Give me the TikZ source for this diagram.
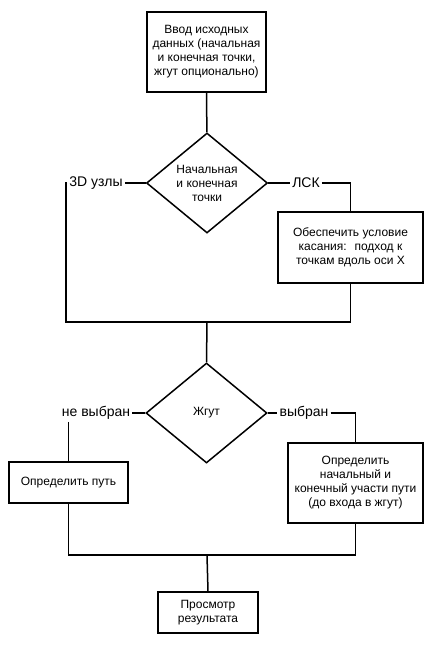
\documentclass[tikz,border=0pt]{standalone}
\usepackage{fontspec}
\setmainfont{Liberation Sans}
\usetikzlibrary{shapes.geometric}
\begin{document}
\begin{tikzpicture}[x=1pt, y=-1pt, line width=1.5pt, line join=miter,
	font=\fontsize{12}{14}\selectfont,
	box/.style={draw, rectangle, align=center, inner sep=2pt},
	choice/.style={draw, diamond, align=center, inner sep=0pt, minimum width=121pt, minimum height=100pt},
	lbl/.style={inner sep=1.5pt, font=\fontsize{14}{16}\selectfont}]
	\useasboundingbox (0,0) rectangle (440,651);
	\node[box, minimum width=119pt, minimum height=80pt] (input) at (206.5,52) {Ввод исходных\\данных (начальная\\и конечная точки,\\жгут опционально)};
	\node[choice] (ends) at (207,183) {Начальная\\и конечная\\точки};
	\node[lbl] (nodes3d) at (96,183) {3D узлы};
	\node[lbl] (lsk) at (306,183) {ЛСК};
	\node[box, minimum width=145pt, minimum height=71pt] (tangent) at (350.5,247.5) {Обеспечить условие\\касания:~ подход к\\точкам вдоль оси X};
	\coordinate (join1) at (207,322);
	\node[choice] (harness) at (206.5,413) {Жгут};
	\node[lbl] (nosel) at (96,413) {не выбран};
	\node[lbl] (sel) at (304,413) {выбран};
	\node[box, minimum width=119pt, minimum height=41pt] (path) at (68.5,482.5) {Определить путь};
	\node[box, minimum width=135pt, minimum height=80pt] (parts) at (355.5,483) {Определить\\начальный и\\конечный участи пути\\(до входа в жгут)};
	\coordinate (join2) at (207,555);
	\node[box, minimum width=100pt, minimum height=41pt] (view) at (208,612.5) {Просмотр\\результата};
	\draw (input) -- (ends);
	\draw (ends.west) -- (nodes3d.east);
	\draw (ends.east) -- (lsk.west);
	\draw (lsk.east) -| (tangent.north);
	\draw (nodes3d.west) -| (66,322) -- (tangent.south |- join1) -- (tangent.south);
	\draw (join1) -- (harness.north);
	\draw (harness.west) -- (nosel.east);
	\draw (harness.east) -- (sel.west);
	\draw (path.north |- nosel.south) -- (path.north);
	\draw (sel.east) -| (parts.north);
	\draw (path.south) |- (parts.south |- join2) -- (parts.south);
	\draw (join2) -- (view.north);
\end{tikzpicture}
\end{document}
